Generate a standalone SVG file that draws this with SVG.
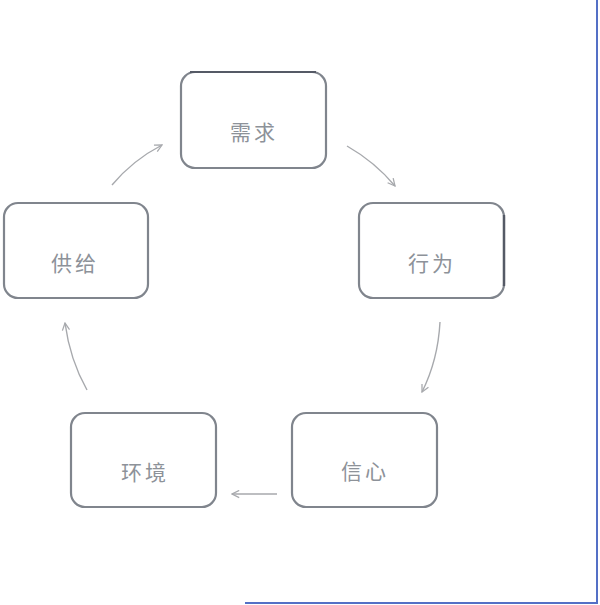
<svg xmlns="http://www.w3.org/2000/svg" width="600" height="605" viewBox="0 0 600 605">
<defs>
<style>
.box{fill:#fff;stroke:#80858d;stroke-width:2.2}
.lbl{font-family:"Noto Sans CJK SC","Liberation Sans",sans-serif;font-size:21px;letter-spacing:3px;fill:#8d9299;text-anchor:middle;dominant-baseline:central}
.conn{fill:none;stroke:#a7a9ad;stroke-width:1.4}
</style>
<marker id="ah" viewBox="0 0 10 10" refX="9" refY="5" markerWidth="9" markerHeight="9" orient="auto" markerUnits="userSpaceOnUse">
<path d="M1,1 L9,5 L1,9" fill="none" stroke="#a7a9ad" stroke-width="1.4"/>
</marker>
</defs>
<rect width="600" height="605" fill="#fff"/>
<g id="frame" fill="none" stroke="#5470c6" stroke-width="2">
<polyline points="597,0 597,603 245,603"/>
</g>
<g id="node-xuqiu"><rect class="box" x="181" y="72" width="145" height="96" rx="14"/><path d="M190,72 H316" stroke="#555a66" stroke-width="2.2" fill="none"/><text class="lbl" x="254" y="131">需求</text></g>
<g id="node-xingwei"><rect class="box" x="359" y="203" width="145" height="95" rx="14"/><path d="M504,215 V286" stroke="#555a66" stroke-width="2.4" fill="none"/><text class="lbl" x="432" y="262">行为</text></g>
<g id="node-gongji"><rect class="box" x="4" y="203" width="144" height="95" rx="14"/><text class="lbl" x="75" y="262">供给</text></g>
<g id="node-huanjing"><rect class="box" x="71" y="413" width="145" height="94" rx="14"/><text class="lbl" x="145" y="471">环境</text></g>
<g id="node-xinxin"><rect class="box" x="292" y="413" width="145" height="94" rx="14"/><text class="lbl" x="365" y="470">信心</text></g>
<g id="connectors">
<path class="conn" d="M347,146 Q375,162 395,186" marker-end="url(#ah)"/>
<path class="conn" d="M440,322 Q438,360 422,392" marker-end="url(#ah)"/>
<path class="conn" d="M277,494 L232,494" marker-end="url(#ah)"/>
<path class="conn" d="M87,390 Q70,360 65,323" marker-end="url(#ah)"/>
<path class="conn" d="M112,185 Q133,160 162,145" marker-end="url(#ah)"/>
</g>
</svg>
